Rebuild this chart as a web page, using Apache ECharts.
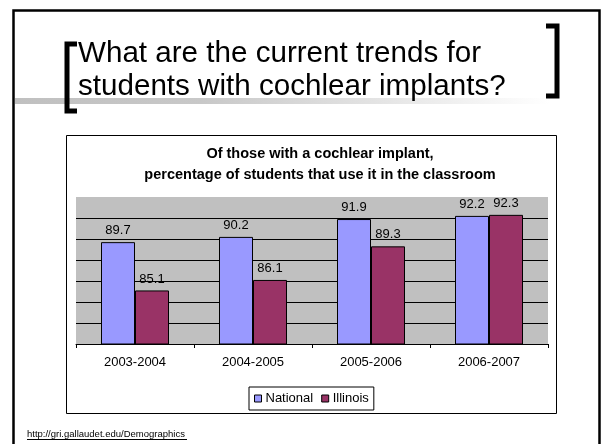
<!DOCTYPE html>
<html><head><meta charset="utf-8">
<script src="https://cdn.jsdelivr.net/npm/echarts@6/dist/echarts.min.js"></script>
<style>html,body{margin:0;padding:0;background:#fff}#c{width:602px;height:444px}</style>
</head><body><div id="c"></div>
<script>
const categories = ['2003-2004', '2004-2005', '2005-2006', '2006-2007'];
const nationalValues = [89.7, 90.2, 91.9, 92.2];
const illinoisValues = [85.1, 86.1, 89.3, 92.3];
const seriesNames = ['National', 'Illinois'];
const slideTitleLines = ['What are the current trends for', 'students with cochlear implants?'];
const chartTitle = 'Of those with a cochlear implant,\npercentage of students that use it in the classroom';
const sourceText = 'http://gri.gallaudet.edu/Demographics';

const FONT = '"Liberation Sans", Arial, sans-serif';
const chart = echarts.init(document.getElementById('c'), null, {renderer: 'canvas'});

const option = {
  animation: false,
  backgroundColor: '#ffffff',
  textStyle: {fontFamily: FONT},
  title: {
    text: chartTitle,
    left: 315, top: 138, textAlign: 'center',
    textStyle: {fontFamily: FONT, fontSize: 14.5, fontWeight: 'bold', color: '#000', lineHeight: 21}
  },
  legend: {
    data: seriesNames,
    left: 249, top: 387,
    padding: [5, 5, 5, 5],
    itemWidth: 7, itemHeight: 7, itemGap: 8,
    icon: 'rect',
    backgroundColor: '#fff', borderColor: '#000', borderWidth: 1,
    textStyle: {fontFamily: FONT, fontSize: 13, color: '#000', padding: [0, 0, 0, -1]},
    itemStyle: {borderColor: '#000', borderWidth: 1}
  },
  grid: {
    left: 76, right: 54, top: 197, bottom: 100,
    show: true, backgroundColor: '#C0C0C0', borderWidth: 0
  },
  xAxis: {
    type: 'category', data: categories,
    axisLine: {show: true, lineStyle: {color: '#000', width: 1}},
    axisTick: {show: true, length: 4, lineStyle: {color: '#000'}},
    axisLabel: {fontFamily: FONT, fontSize: 13, color: '#000', margin: 12},
    splitLine: {show: false}
  },
  yAxis: {
    type: 'value', min: 80, max: 94, interval: 2,
    axisLine: {show: false}, axisTick: {show: false}, axisLabel: {show: false},
    splitLine: {show: true, showMaxLine: false, lineStyle: {color: '#000', width: 1}}
  },
  series: [
    {
      name: seriesNames[0], type: 'bar', data: nationalValues,
      barWidth: 34, barGap: '0%',
      itemStyle: {color: '#9999FF', borderColor: '#000', borderWidth: 1},
      label: {show: true, position: 'top', distance: 5, fontFamily: FONT, fontSize: 13, color: '#000'}
    },
    {
      name: seriesNames[1], type: 'bar', data: illinoisValues,
      barWidth: 34, barGap: '0%',
      itemStyle: {color: '#993366', borderColor: '#000', borderWidth: 1},
      label: {show: true, position: 'top', distance: 5, fontFamily: FONT, fontSize: 13, color: '#000'}
    }
  ],
  graphic: [
    {type: 'rect', z: -20, shape: {x: 13.5, y: 10.5, width: 586, height: 500},
     style: {fill: '#fff', stroke: '#000', lineWidth: 2.5}},
    {type: 'rect', z: -15, shape: {x: 15, y: 98, width: 535, height: 6},
     style: {fill: new echarts.graphic.LinearGradient(0, 0, 1, 0, [
       {offset: 0, color: '#C0C0C0'}, {offset: 0.35, color: '#C8C8C8'}, {offset: 1, color: '#FFFFFF'}])}},
    {type: 'polyline', z: -5, shape: {points: [[77, 44], [67, 44], [67, 111], [77, 111]]},
     style: {fill: null, stroke: '#000', lineWidth: 5, lineJoin: 'miter'}},
    {type: 'polyline', z: -5, shape: {points: [[546, 26], [557, 26], [557, 96], [546, 96]]},
     style: {fill: null, stroke: '#000', lineWidth: 5, lineJoin: 'miter'}},
    {type: 'text', z: -5, x: 78, y: 54,
     style: {text: slideTitleLines[0], font: '29.6px ' + FONT, fill: '#000', verticalAlign: 'middle'}},
    {type: 'text', z: -5, x: 78, y: 87,
     style: {text: slideTitleLines[1], font: '29.6px ' + FONT, fill: '#000', verticalAlign: 'middle'}},
    {type: 'rect', z: -10, shape: {x: 66.5, y: 135.5, width: 490, height: 278},
     style: {fill: '#fff', stroke: '#000', lineWidth: 1}},
    {type: 'text', z: -5, x: 27, y: 434,
     style: {text: sourceText, font: '9.5px ' + FONT, fill: '#000', verticalAlign: 'middle'}},
    {type: 'line', z: -5, shape: {x1: 27, y1: 439.5, x2: 187, y2: 439.5},
     style: {stroke: '#000', lineWidth: 1}}
  ]
};
chart.setOption(option);
</script>
</body></html>
